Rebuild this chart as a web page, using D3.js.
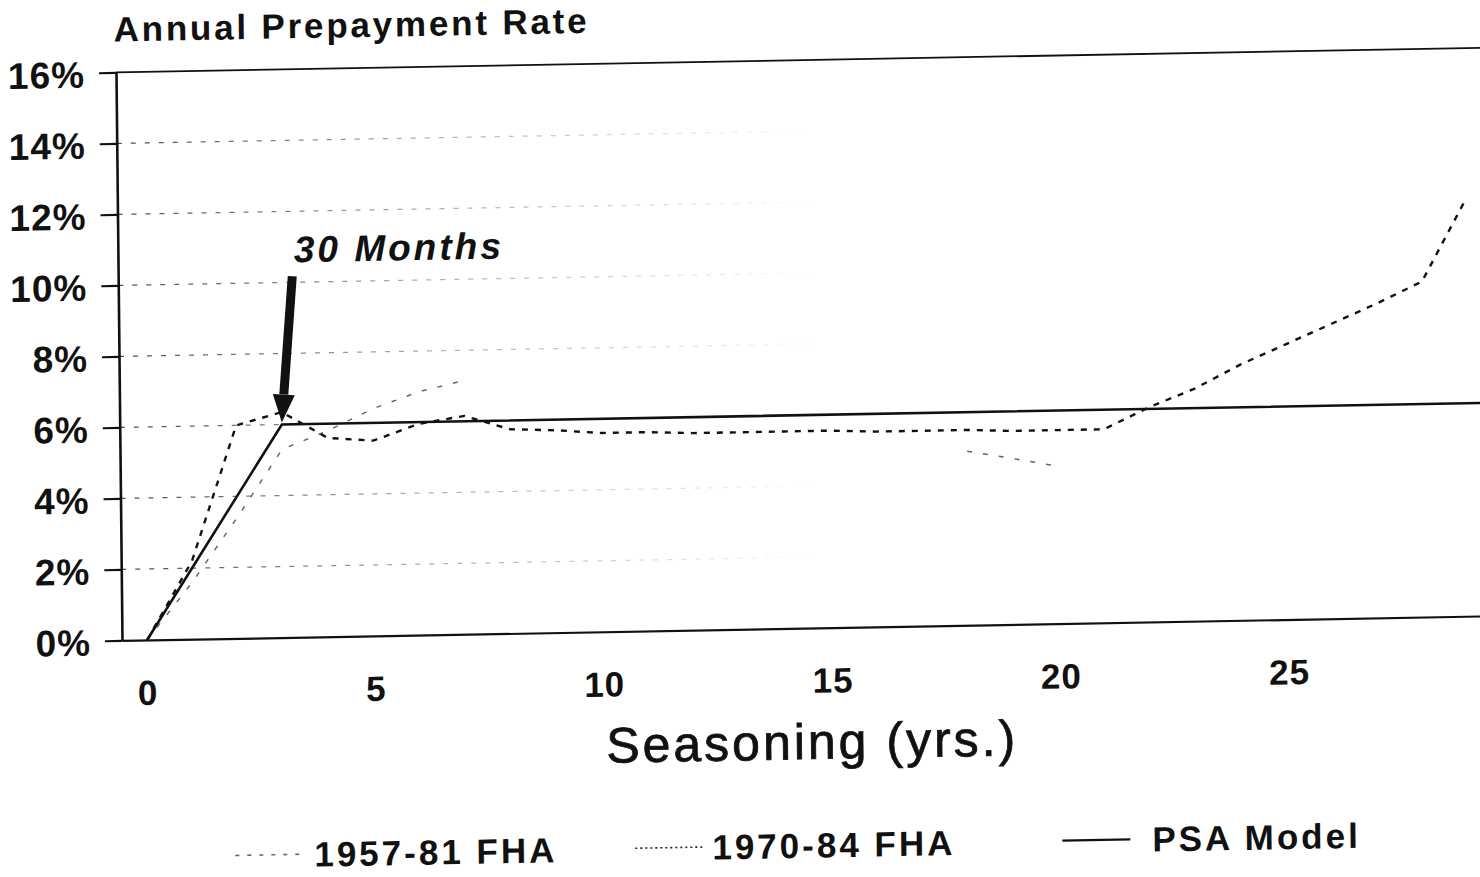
<!DOCTYPE html>
<html>
<head>
<meta charset="utf-8">
<script src="https://cdn.jsdelivr.net/npm/d3@7"></script>
<style>
  body { margin: 0; background: #fff; }
  text { font-family: "Liberation Sans", Arial, Helvetica, sans-serif; fill: #111; }
</style>
</head>
<body>
<script>
// data
var years = [0, 1, 2, 3, 4, 5, 6, 7, 8, 9, 10, 11, 12, 13, 14, 15, 16, 17, 18, 19, 20, 21, 22, 23, 24, 25, 26, 27, 28, 29];
var fha7084 = [0, 2.2, 6.0, 6.35, 5.6, 5.5, 5.95, 6.15, 5.75, 5.7, 5.6, 5.6, 5.55, 5.55, 5.55, 5.55, 5.5, 5.5, 5.5, 5.45, 5.45, 5.45, 6.05, 6.55, 7.2, 7.75, 8.3, 8.85, 9.45, 11.8];
// faded series, only the parts that survive in the scan
var fha5781 = [0, 1.6, 3.4, 5.3, 5.8, 6.4, 6.85, 7.15, null, null, null, null, null, null, null, null, null, null, 4.9, 4.67, 4.43, null, null, null, null, null, null, null, null, null];
var psaYears = [0, 3, 30];
var psaRates = [0, 6, 6];
var yTicks = [0, 2, 4, 6, 8, 10, 12, 14, 16];
var xTicks = [0, 5, 10, 15, 20, 25];
var legendLabels = ["1957-81 FHA", "1970-84 FHA", "PSA Model"];

var svgWidth = 1480;
var svgHeight = 877;

var svg = d3.select("body")
    .append("svg")
    .attr("width", svgWidth)
    .attr("height", svgHeight);

svg.append("rect")
    .attr("width", svgWidth)
    .attr("height", svgHeight)
    .attr("fill", "#fff");

// the scan is slightly tilted / skewed, so the whole chart gets the same tilt
var chart = svg.append("g")
    .attr("transform", "translate(147,640) matrix(1,-0.018,0.0106,1,0,0) translate(-147,-640)");

var x = d3.scaleLinear().domain([-0.55, 29.85]).range([122, 1510]);
var y = d3.scaleLinear().domain([0, 16]).range([640, 72]);

// faded dashed gridlines
var defs = svg.append("defs");
var grad = defs.append("linearGradient")
    .attr("id", "fade")
    .attr("gradientUnits", "userSpaceOnUse")
    .attr("x1", 122).attr("x2", 820).attr("y1", 0).attr("y2", 0);
grad.append("stop").attr("offset", 0).attr("stop-color", "#222").attr("stop-opacity", 0.8);
grad.append("stop").attr("offset", 0.4).attr("stop-color", "#222").attr("stop-opacity", 0.4);
grad.append("stop").attr("offset", 1).attr("stop-color", "#222").attr("stop-opacity", 0);

chart.append("g")
    .selectAll("line")
    .data(yTicks.filter(d => d > 0 && d < 16))
    .enter()
    .append("line")
    .attr("x1", x.range()[0])
    .attr("x2", x.range()[1])
    .attr("y1", d => y(d))
    .attr("y2", d => y(d))
    .attr("stroke", "url(#fade)")
    .attr("stroke-width", 1.3)
    .attr("stroke-dasharray", "5,9");

// top frame
chart.append("line")
    .attr("x1", x.range()[0])
    .attr("x2", x.range()[1])
    .attr("y1", y(16))
    .attr("y2", y(16))
    .attr("stroke", "#111")
    .attr("stroke-width", 1.8);

// axes
var leftAxis = d3.axisLeft(y)
    .tickValues(yTicks)
    .tickSizeInner(17)
    .tickSizeOuter(0)
    .tickPadding(14)
    .tickFormat(d => d + "%");

var yAxis = chart.append("g")
    .attr("transform", `translate(${x.range()[0]},0)`)
    .call(leftAxis);
yAxis.select(".domain").attr("stroke", "#111").attr("stroke-width", 2.6);
yAxis.selectAll(".tick line").attr("stroke", "#111").attr("stroke-width", 2.2);
yAxis.selectAll("text")
    .attr("fill", "#111")
    .attr("dy", "0.38em")
    .style("font-size", "37px")
    .style("font-weight", "bold")
    .style("letter-spacing", "1px");

var bottomAxis = d3.axisBottom(x)
    .tickValues(xTicks)
    .tickSize(0)
    .tickPadding(40);

var xAxis = chart.append("g")
    .attr("transform", `translate(0,${y(0)})`)
    .call(bottomAxis);
xAxis.select(".domain").attr("stroke", "#111").attr("stroke-width", 2.2);
xAxis.selectAll("text")
    .attr("fill", "#111")
    .style("font-size", "35px")
    .style("font-weight", "bold")
    .style("letter-spacing", "1px");

// series
var line = d3.line()
    .defined(d => d[1] !== null)
    .x(d => x(d[0]))
    .y(d => y(d[1]));

chart.append("path")
    .datum(years.map((yr, i) => [yr, fha5781[i]]))
    .attr("d", line)
    .attr("fill", "none")
    .attr("stroke", "#666")
    .attr("stroke-width", 1.5)
    .attr("stroke-dasharray", "5,11");

chart.append("path")
    .datum(years.map((yr, i) => [yr, fha7084[i]]))
    .attr("d", line)
    .attr("fill", "none")
    .attr("stroke", "#111")
    .attr("stroke-width", 2.4)
    .attr("stroke-dasharray", "6,7");

chart.append("path")
    .datum(psaYears.map((yr, i) => [yr, psaRates[i]]))
    .attr("d", line)
    .attr("fill", "none")
    .attr("stroke", "#111")
    .attr("stroke-width", 2.6);

// 30 months annotation and arrow
var tipX = x(psaYears[1]);
var tipY = y(psaRates[1]) - 2;
var startX = tipX + 12;
var startY = tipY - 146;
var ang = Math.atan2(tipY - startY, tipX - startX);
var headLen = 28, headHalf = 11;
var baseX = tipX - headLen * Math.cos(ang);
var baseY = tipY - headLen * Math.sin(ang);

chart.append("line")
    .attr("x1", startX).attr("y1", startY)
    .attr("x2", baseX).attr("y2", baseY)
    .attr("stroke", "#111")
    .attr("stroke-width", 9);

chart.append("path")
    .attr("d", `M${tipX},${tipY}L${baseX + headHalf * Math.sin(ang)},${baseY - headHalf * Math.cos(ang)}L${baseX - headHalf * Math.sin(ang)},${baseY + headHalf * Math.cos(ang)}Z`)
    .attr("fill", "#111");

chart.append("text")
    .attr("x", 298)
    .attr("y", 265)
    .style("font-size", "37px")
    .style("font-weight", "bold")
    .style("font-style", "italic")
    .style("letter-spacing", "3px")
    .text("30 Months");

// titles
chart.append("text")
    .attr("x", 120)
    .attr("y", 41)
    .style("font-size", "35px")
    .style("font-weight", "bold")
    .style("letter-spacing", "2.8px")
    .text("Annual Prepayment Rate");

chart.append("text")
    .attr("x", 811)
    .attr("y", 771)
    .attr("text-anchor", "middle")
    .attr("stroke", "#111")
    .attr("stroke-width", 0.8)
    .style("font-size", "50px")
    .style("letter-spacing", "3px")
    .text("Seasoning (yrs.)");

// legend
var legendX = [233, 633, 1060];
var legendDash = ["4,8", "2,3", null];
var legendColor = ["#666", "#222", "#111"];
var legendWidth = [1.6, 1.6, 2.2];
var legendTextX = [312, 710, 1150];
var legendY = 857;

legendLabels.forEach(function(label, i) {
    var item = chart.append("g");
    item.append("line")
        .attr("x1", legendX[i])
        .attr("x2", legendX[i] + 68)
        .attr("y1", legendY)
        .attr("y2", legendY)
        .attr("stroke", legendColor[i])
        .attr("stroke-width", legendWidth[i])
        .attr("stroke-dasharray", legendDash[i]);
    item.append("text")
        .attr("x", legendTextX[i])
        .attr("y", legendY)
        .attr("dy", "0.36em")
        .style("font-size", "35px")
        .style("font-weight", "bold")
        .style("letter-spacing", "3px")
        .text(label);
});
</script>
</body>
</html>
